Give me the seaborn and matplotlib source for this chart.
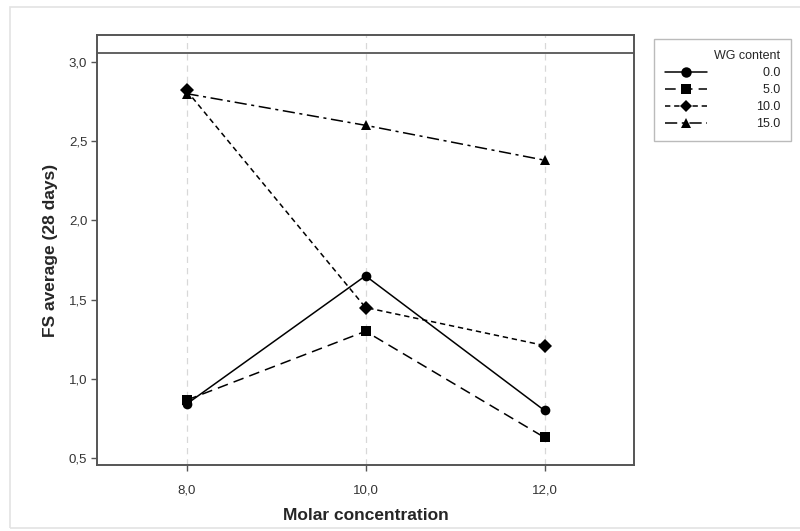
import matplotlib
matplotlib.use("Agg")
import matplotlib.pyplot as plt
import matplotlib.ticker as mticker
from matplotlib.lines import Line2D
from matplotlib.patches import Rectangle
import seaborn as sns
import pandas as pd

# ---- data ----
molar = [8.0, 10.0, 12.0]
wg_levels = ["0.0", "5.0", "10.0", "15.0"]
fs_wg0 = [0.84, 1.65, 0.80]
fs_wg5 = [0.865, 1.30, 0.63]
fs_wg10 = [2.82, 1.45, 1.21]
fs_wg15 = [2.80, 2.60, 2.38]
y_ticks = [0.5, 1.0, 1.5, 2.0, 2.5, 3.0]
x_ticks = [8.0, 10.0, 12.0]

series = {"0.0": fs_wg0, "5.0": fs_wg5, "10.0": fs_wg10, "15.0": fs_wg15}
rows = []
for wg in wg_levels:
    for m, v in zip(molar, series[wg]):
        rows.append({"molar": m, "fs": v, "wg": wg})
df = pd.DataFrame(rows)

sns.set_theme(style="white")
plt.rcParams["font.family"] = ["Liberation Sans", "DejaVu Sans"]

fig = plt.figure(figsize=(8, 5.31), dpi=100)
fig.patches.append(Rectangle((10 / 800, 3 / 531), 1.2, 1 - 10 / 531, transform=fig.transFigure,
                             fill=False, edgecolor="#e3e3e3", lw=1.2))
ax = fig.add_axes([97 / 800, 66 / 531, (634 - 97) / 800, (465 - 35) / 531])

markers = {"0.0": "o", "5.0": "s", "10.0": "D", "15.0": "^"}
dashes = {"0.0": "", "5.0": (7, 4), "10.0": (3.5, 2.5), "15.0": (8, 3, 2, 3)}
palette = {k: "black" for k in wg_levels}
msize = {"0.0": 7.5, "5.0": 7, "10.0": 6.5, "15.0": 7.5}

sns.lineplot(data=df, x="molar", y="fs", hue="wg", style="wg", hue_order=wg_levels,
             style_order=wg_levels, markers=markers, dashes=dashes, palette=palette,
             markersize=7, markeredgewidth=0, linewidth=1.1, ax=ax, legend=False)

ax.set_xlim(7.0, 13.0)
ax.set_ylim(0.456, 3.17)
ax.axhline(3.057, color="#555555", lw=1.3)
ax.set_xticks(x_ticks)
ax.set_yticks(y_ticks)
fmt = mticker.FuncFormatter(lambda v, p: f"{v:.1f}".replace(".", ","))
ax.xaxis.set_major_formatter(fmt)
ax.yaxis.set_major_formatter(fmt)
ax.xaxis.grid(True, color="#d8d8d8", linestyle=(0, (5, 4)), lw=0.9)
ax.yaxis.grid(False)
ax.set_axisbelow(True)
for s in ax.spines.values():
    s.set_color("#555555")
    s.set_linewidth(1.4)
ax.tick_params(axis="both", which="major", direction="out", length=4, width=1,
               color="#555555", labelsize=9.5, labelcolor="#333333", pad=3)
ax.tick_params(axis="x", bottom=True, pad=10)
ax.tick_params(axis="y", left=True)
ax.set_xlabel("Molar concentration", fontsize=12.5, fontweight="bold", labelpad=8)
ax.set_ylabel("FS average (28 days)", fontsize=12.5, fontweight="bold", labelpad=8)

handles = []
for k in wg_levels:
    h = Line2D([0], [0], color="black", lw=1.1, marker=markers[k], markersize=msize[k],
               markeredgewidth=0, linestyle="-" if not dashes[k] else "--")
    if dashes[k]:
        h.set_dashes(dashes[k])
    handles.append(h)
labels = [("\u2007" + k) if len(k) == 3 else k for k in wg_levels]
leg = fig.legend(handles, labels, title="WG content", loc="upper left",
                 bbox_to_anchor=(648 / 800, 1 - 33 / 531), frameon=True, fontsize=9,
                 title_fontsize=9, handlelength=3.4, handletextpad=3.9, borderpad=0.85,
                 labelspacing=0.4, alignment="right", fancybox=False, numpoints=1)
leg.get_frame().set_edgecolor("#aaaaaa")
leg.get_frame().set_linewidth(1.0)
for t in leg.get_texts():
    t.set_color("#222222")

fig.savefig("out.png", dpi=100)
